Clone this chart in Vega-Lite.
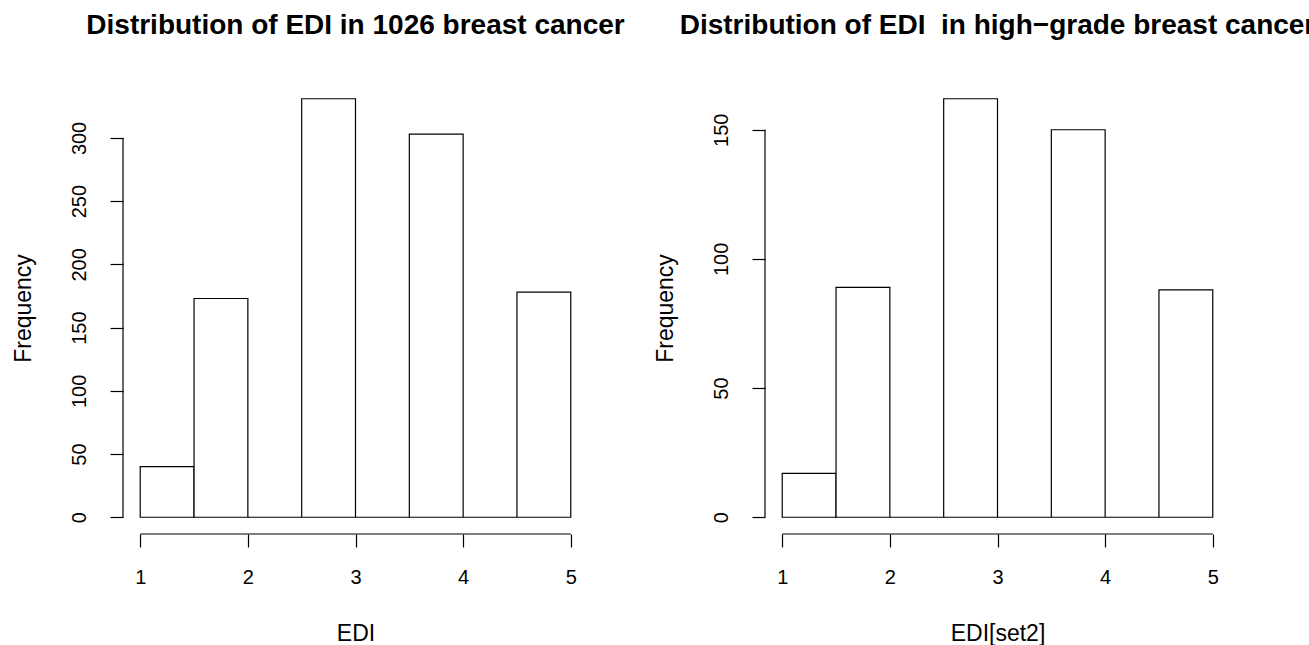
{
  "$schema": "https://vega.github.io/schema/vega-lite/v6.json",
  "background": "white",
  "padding": {"left": 11, "top": 12, "right": 0, "bottom": 0},
  "bounds": "flush",
  "spacing": 177,
  "config": {
    "font": "Liberation Sans",
    "view": {"stroke": null},
    "axis": {
      "domain": false,
      "grid": false,
      "tickColor": "black",
      "tickWidth": 1.2,
      "tickSize": 13,
      "labelColor": "black",
      "labelFont": "Liberation Sans",
      "labelFontSize": 20,
      "labelFlush": false,
      "labelOverlap": false,
      "titleColor": "black",
      "titleFont": "Liberation Sans",
      "titleFontSize": 23,
      "titleFontWeight": "normal"
    },
    "title": {"font": "Liberation Sans", "fontSize": 28, "fontWeight": "bold", "color": "black", "anchor": "middle", "frame": "group", "baseline": "alphabetic", "offset": 42}
  },
  "datasets": {
    "all": [
      {"start": 1.0, "end": 1.5, "count": 40},
      {"start": 1.5, "end": 2.0, "count": 173},
      {"start": 2.0, "end": 2.5, "count": 0},
      {"start": 2.5, "end": 3.0, "count": 331},
      {"start": 3.0, "end": 3.5, "count": 0},
      {"start": 3.5, "end": 4.0, "count": 303},
      {"start": 4.0, "end": 4.5, "count": 0},
      {"start": 4.5, "end": 5.0, "count": 178}
    ],
    "high": [
      {"start": 1.0, "end": 1.5, "count": 17},
      {"start": 1.5, "end": 2.0, "count": 89},
      {"start": 2.0, "end": 2.5, "count": 0},
      {"start": 2.5, "end": 3.0, "count": 162},
      {"start": 3.0, "end": 3.5, "count": 0},
      {"start": 3.5, "end": 4.0, "count": 150},
      {"start": 4.0, "end": 4.5, "count": 0},
      {"start": 4.5, "end": 5.0, "count": 88}
    ]
  },
  "hconcat": [
    {
      "title": "Distribution of EDI in 1026 breast cancer",
      "width": 465,
      "height": 452,
      "layer": [
        {
          "data": {"name": "all"},
          "mark": {"type": "rect", "fill": "white", "stroke": "black", "strokeWidth": 1.2},
          "encoding": {
            "x": {"field": "start", "type": "quantitative", "scale": {"domain": [0.84, 5.16], "nice": false, "zero": false},
                  "axis": {"values": [1, 2, 3, 4, 5], "format": "d", "title": "EDI", "labelAngle": 0, "labelPadding": 20, "titlePadding": 35}},
            "x2": {"field": "end"},
            "y": {"field": "count", "type": "quantitative", "scale": {"domain": [-13.24, 344.24], "nice": false, "zero": false},
                  "axis": {"values": [0, 50, 100, 150, 200, 250, 300], "format": "d", "title": "Frequency", "labelAngle": 270, "labelAlign": "center", "labelBaseline": "alphabetic", "labelPadding": 25, "titlePadding": 34}},
            "y2": {"datum": 0}
          }
        },
        {
          "data": {"values": [{}]},
          "mark": {"type": "rule", "color": "black", "strokeWidth": 1.2},
          "encoding": {"x": {"datum": 1}, "x2": {"datum": 5}, "y": {"datum": -13.24}}
        },
        {
          "data": {"values": [{}]},
          "mark": {"type": "rule", "color": "black", "strokeWidth": 1.2},
          "encoding": {"x": {"datum": 0.84}, "y": {"datum": 0}, "y2": {"datum": 300}}
        }
      ]
    },
    {
      "title": "Distribution of EDI\u00a0 in high−grade breast cancer",
      "width": 465,
      "height": 452,
      "layer": [
        {
          "data": {"name": "high"},
          "mark": {"type": "rect", "fill": "white", "stroke": "black", "strokeWidth": 1.2},
          "encoding": {
            "x": {"field": "start", "type": "quantitative", "scale": {"domain": [0.84, 5.16], "nice": false, "zero": false},
                  "axis": {"values": [1, 2, 3, 4, 5], "format": "d", "title": "EDI[set2]", "labelAngle": 0, "labelPadding": 20, "titlePadding": 35}},
            "x2": {"field": "end"},
            "y": {"field": "count", "type": "quantitative", "scale": {"domain": [-6.48, 168.48], "nice": false, "zero": false},
                  "axis": {"values": [0, 50, 100, 150], "format": "d", "title": "Frequency", "labelAngle": 270, "labelAlign": "center", "labelBaseline": "alphabetic", "labelPadding": 25, "titlePadding": 34}},
            "y2": {"datum": 0}
          }
        },
        {
          "data": {"values": [{}]},
          "mark": {"type": "rule", "color": "black", "strokeWidth": 1.2},
          "encoding": {"x": {"datum": 1}, "x2": {"datum": 5}, "y": {"datum": -6.48}}
        },
        {
          "data": {"values": [{}]},
          "mark": {"type": "rule", "color": "black", "strokeWidth": 1.2},
          "encoding": {"x": {"datum": 0.84}, "y": {"datum": 0}, "y2": {"datum": 150}}
        }
      ]
    }
  ]
}
